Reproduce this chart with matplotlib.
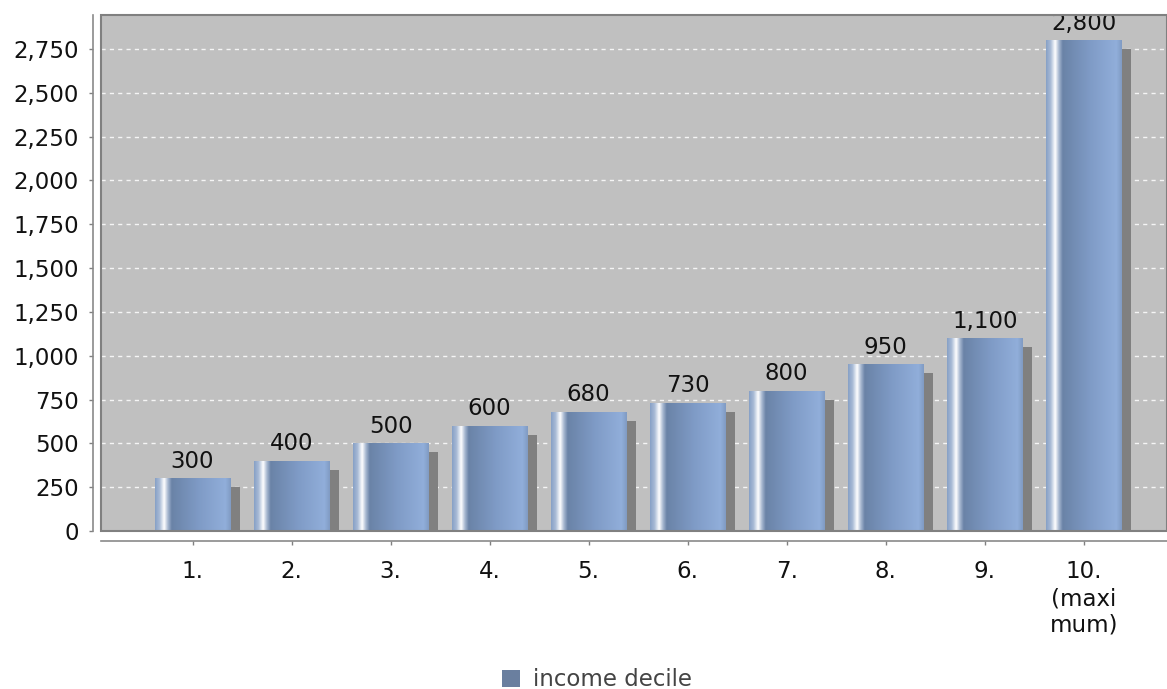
import numpy as np
import matplotlib
matplotlib.use("Agg")
import matplotlib.pyplot as plt
from matplotlib.colors import LinearSegmentedColormap
from matplotlib.patches import Rectangle
import matplotlib.transforms as mtransforms

categories = ["1.", "2.", "3.", "4.", "5.", "6.", "7.", "8.", "9.", "10.\n(maxi\nmum)"]
values = [300, 400, 500, 600, 680, 730, 800, 950, 1100, 2800]
value_labels = ["300", "400", "500", "600", "680", "730", "800", "950", "1,100", "2,800"]
yticks = [0, 250, 500, 750, 1000, 1250, 1500, 1750, 2000, 2250, 2500, 2750]
series_name = "income decile"

plt.rcParams['font.family'] = ['DejaVu Sans']
FS = 16.5
fig = plt.figure(figsize=(11.67, 6.89), dpi=100)
ax = fig.add_axes([101/1167, 1 - 531/689, 1 - 101/1167, (531 - 15)/689])
ax.set_facecolor("#c0c0c0")

x = np.arange(len(values))
width = 0.76

# grid
for v in yticks[1:]:
    ax.axhline(v, color="white", lw=1.0, ls=(0, (3, 3)), zorder=1, alpha=0.85)

# shadows
shadow_tr = ax.transData + mtransforms.ScaledTranslation(10/100, -9/100, fig.dpi_scale_trans)
ax.bar(x, values, width=width, color="#808080", transform=shadow_tr, zorder=2, linewidth=0)

# bars with gradient
cmap = LinearSegmentedColormap.from_list("barg", [
    (0.00, "#86a0c6"),
    (0.06, "#a9bbd6"),
    (0.12, "#ffffff"),
    (0.17, "#a6b7d0"),
    (0.22, "#6a83a7"),
    (0.58, "#7f9bc6"),
    (0.93, "#91aeda"),
    (1.00, "#809bc3"),
])
grad = np.linspace(0, 1, 256).reshape(1, -1)
bars = ax.bar(x, values, width=width, color="none", zorder=3, linewidth=0)
for b in bars:
    x0, y0 = b.get_x(), b.get_y()
    w, h = b.get_width(), b.get_height()
    im = ax.imshow(grad, cmap=cmap, aspect="auto", extent=[x0, x0 + w, y0, y0 + h],
                   zorder=3, interpolation="bilinear")
    im.set_clip_path(b)

ax.set_xlim(-0.924, 9.84)
ax.set_ylim(0, 2944)

for xi, v, lab in zip(x, values, value_labels):
    t = ax.annotate(lab, (xi, v), xytext=(0, 4), textcoords="offset points",
                    ha="center", va="bottom", fontsize=FS, color="#111111", zorder=5,
                    annotation_clip=False)
    t.set_clip_on(True)
    t.set_clip_box(ax.bbox)

ax.set_yticks(yticks)
ax.set_yticklabels([f"{v:,}" for v in yticks])
ax.set_xticks(x)
ax.set_xticklabels(categories, linespacing=1.32)
ax.tick_params(axis="y", labelsize=FS, labelcolor="#111111", length=3, width=1, color="#808080", pad=7)
ax.tick_params(axis="x", labelsize=FS, labelcolor="#111111", length=3, width=1, color="#808080", pad=11)

for s in ["top", "right"]:
    ax.spines[s].set_visible(False)
ax.spines["left"].set_position(("outward", 5.8))
ax.spines["bottom"].set_position(("outward", 7.2))
for s in ["left", "bottom"]:
    ax.spines[s].set_color("#8a8a8a")
    ax.spines[s].set_linewidth(1.2)

ax.add_patch(Rectangle((0, 0), 1, 1, transform=ax.transAxes, fill=False,
                       edgecolor="#808080", lw=1.5, zorder=6, clip_on=False))

# legend
fig.patches.append(Rectangle((502/1167, 1 - 687/689), 18/1167, 17/689,
                             transform=fig.transFigure, facecolor="#6a7f9f", edgecolor="none"))
fig.text(533/1167, 1 - 679/689, series_name, fontsize=FS, color="#444444", va="center", ha="left")

fig.savefig("out.png", dpi=100)
